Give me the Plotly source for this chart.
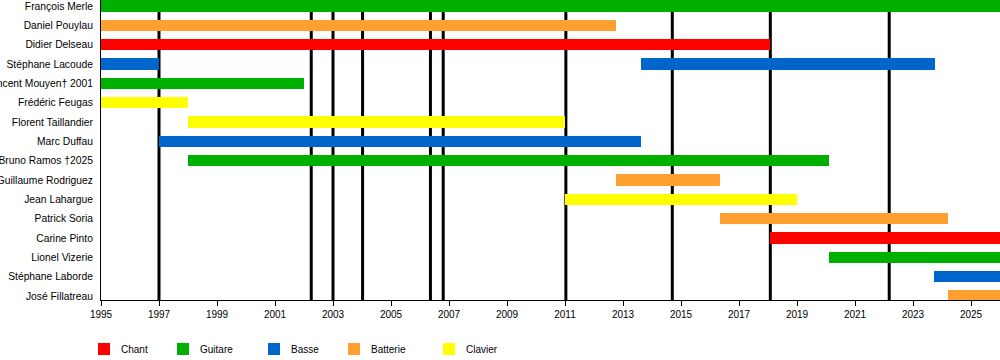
import plotly.graph_objects as go

members = ["François Merle", "Daniel Pouylau", "Didier Delseau", "Stéphane Lacoude",
           "Vincent Mouyen† 2001", "Frédéric Feugas", "Florent Taillandier", "Marc Duffau",
           "Bruno Ramos †2025", "Guillaume Rodriguez", "Jean Lahargue", "Patrick Soria",
           "Carine Pinto", "Lionel Vizerie", "Stéphane Laborde", "José Fillatreau"]

END = 2026.0
# periods: member, role, start, end
period_member = ["François Merle", "Daniel Pouylau", "Didier Delseau", "Stéphane Lacoude",
                 "Stéphane Lacoude", "Vincent Mouyen† 2001", "Frédéric Feugas",
                 "Florent Taillandier", "Marc Duffau", "Bruno Ramos †2025",
                 "Guillaume Rodriguez", "Jean Lahargue", "Patrick Soria", "Carine Pinto",
                 "Lionel Vizerie", "Stéphane Laborde", "José Fillatreau"]
period_role = ["Guitare", "Batterie", "Chant", "Basse", "Basse", "Guitare", "Clavier",
               "Clavier", "Basse", "Guitare", "Batterie", "Clavier", "Batterie", "Chant",
               "Guitare", "Basse", "Batterie"]
period_start = [1995.0, 1995.0, 1995.0, 1995.0, 2013.62, 1995.0, 1995.0, 1998.0, 1997.0,
                1998.0, 2012.75, 2011.0, 2016.35, 2018.08, 2020.12, 2023.72, 2024.2]
period_end = [END, 2012.75, 2018.08, 1997.0, 2023.75, 2002.0, 1998.0, 2011.0, 2013.62,
              2020.1, 2016.35, 2019.0, 2024.22, END, END, END, END]

events = [1997.0, 2002.25, 2003.0, 2004.02, 2006.36, 2006.8, 2011.03, 2014.7, 2018.08, 2022.18]

roles = ["Chant", "Guitare", "Basse", "Batterie", "Clavier"]
role_colors = {"Chant": "#FF0000", "Guitare": "#00B000", "Basse": "#0066CC",
               "Batterie": "#FFA030", "Clavier": "#FFFF00"}

tick_years = list(range(1995, 2026, 2))

fig = go.Figure()
for role in roles:
    idx = [i for i, r in enumerate(period_role) if r == role]
    fig.add_trace(go.Bar(
        orientation="h",
        y=[period_member[i] for i in idx],
        base=[period_start[i] for i in idx],
        x=[period_end[i] - period_start[i] for i in idx],
        marker=dict(color=role_colors[role], line=dict(width=0)),
        width=0.57,
        name=role,
        showlegend=False,
        hoverinfo="skip",
    ))

shapes = []
for e in events:
    shapes.append(dict(type="line", xref="x", yref="paper", x0=e, x1=e, y0=0, y1=1,
                       line=dict(color="black", width=3), layer="below"))

annotations = []
leg_x = [98, 177, 268, 348, 443]
for role, px in zip(roles, leg_x):
    x0 = (px - 101) / 899
    x1 = (px + 12 - 101) / 899
    shapes.append(dict(type="rect", xref="paper", yref="paper", x0=x0, x1=x1,
                       y0=(300 - 355) / 300, y1=(300 - 343) / 300,
                       fillcolor=role_colors[role], line=dict(width=0)))
    annotations.append(dict(xref="paper", yref="paper", x=(px + 21 - 101) / 899,
                            y=(300 - 349.5) / 300, text=role, showarrow=False,
                            xanchor="left", yanchor="middle",
                            font=dict(size=10, color="black")))

fig.update_layout(
    width=1000, height=360,
    margin=dict(l=101, r=0, t=0, b=60, autoexpand=False),
    plot_bgcolor="white", paper_bgcolor="white",
    barmode="overlay",
    bargap=0,
    font=dict(family="Liberation Sans, Arial, sans-serif", size=10.3, color="black"),
    shapes=shapes,
    annotations=annotations,
    showlegend=False,
)
fig.update_xaxes(range=[1995, END], tickvals=tick_years, ticktext=[str(y) for y in tick_years],
                 showgrid=False, zeroline=False, showline=True, linecolor="black", linewidth=1,
                 ticks="outside", ticklen=5, tickcolor="black", tickwidth=1, automargin=False,
                 tickfont=dict(size=10))
fig.update_yaxes(type="category", categoryorder="array", categoryarray=members,
                 range=[15.207, -0.31], showgrid=False, zeroline=False,
                 showline=True, linecolor="black", linewidth=1, ticks="outside",
                 ticklen=0, ticklabelstandoff=5, automargin=False)

fig.write_html("out.html", config={"displayModeBar": False},
               post_script="document.body.style.margin='0';document.body.style.padding='0';")
